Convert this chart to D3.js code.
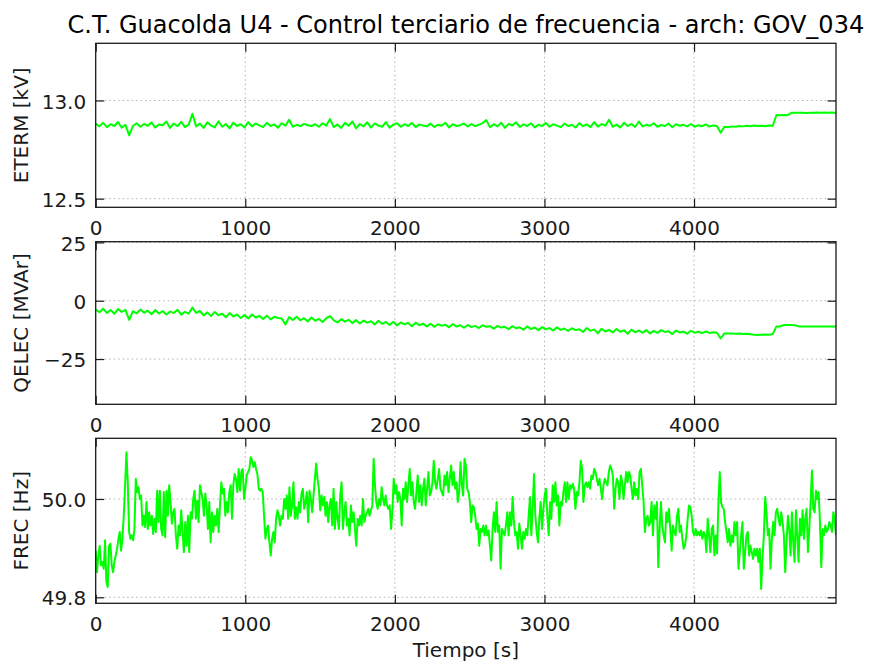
<!DOCTYPE html>
<html><head><meta charset="utf-8">
<script src="https://cdn.jsdelivr.net/npm/d3@7"></script>
<style>body{margin:0;background:#fff}svg{display:block}text{font-family:"DejaVu Sans",sans-serif}</style>
</head><body><svg id="c" width="880" height="661"></svg>
<script>
const TITLE = "C.T. Guacolda U4 - Control terciario de frecuencia - arch: GOV_034";
const X_LABEL = "Tiempo [s]";
const X_TICKS = [0, 1000, 2000, 3000, 4000];
const T_END = 4949;

const ETERM_LABEL = "ETERM [kV]";
const ETERM_TICKS = [12.5, 13.0];
const ETERM = [
12.882,12.868,12.886,12.864,12.879,12.870,12.890,12.861,12.876,12.822,
12.870,12.884,12.866,12.880,12.871,12.888,12.862,12.878,12.874,12.893,
12.860,12.883,12.869,12.891,12.864,12.877,12.932,12.868,12.882,12.860,
12.889,12.872,12.863,12.894,12.866,12.880,12.858,12.887,12.870,12.879,
12.862,12.890,12.868,12.882,12.873,12.864,12.886,12.870,12.878,12.861,
12.884,12.872,12.902,12.866,12.876,12.869,12.881,12.874,12.870,12.879,
12.866,12.884,12.872,12.905,12.864,12.878,12.860,12.886,12.871,12.893,
12.858,12.880,12.868,12.889,12.862,12.883,12.872,12.866,12.890,12.861,
12.877,12.884,12.866,12.879,12.870,12.886,12.864,12.878,12.872,12.868,
12.882,12.865,12.876,12.871,12.887,12.862,12.879,12.870,12.874,12.883,
12.867,12.880,12.869,12.876,12.885,12.900,12.864,12.879,12.868,12.887,
12.860,12.881,12.872,12.889,12.865,12.878,12.870,12.884,12.863,12.876,
12.870,12.886,12.866,12.879,12.872,12.864,12.882,12.870,12.876,12.862,
12.885,12.869,12.878,12.864,12.890,12.867,12.880,12.872,12.902,12.866,
12.877,12.862,12.886,12.870,12.880,12.865,12.893,12.868,12.876,12.871,
12.884,12.866,12.875,12.870,12.882,12.864,12.879,12.871,12.876,12.868,
12.880,12.866,12.874,12.869,12.878,12.867,12.873,12.870,12.836,12.866,
12.864,12.868,12.866,12.870,12.868,12.871,12.869,12.872,12.870,12.871,
12.869,12.872,12.871,12.926,12.925,12.926,12.925,12.937,12.938,12.937,
12.938,12.936,12.938,12.937,12.939,12.938,12.939,12.937,12.939,12.936
];

const QELEC_LABEL = "QELEC [MVAr]";
const QELEC_TICKS = [-25, 0, 25];
const QELEC = [
-3.8,-4.9,-3.4,-5.2,-4.0,-5.6,-3.6,-4.8,-3.9,-8.2,
-4.5,-5.4,-3.8,-5.1,-4.3,-5.8,-4.0,-5.5,-4.4,-5.9,
-4.6,-5.3,-3.9,-6.0,-4.8,-5.5,-2.9,-5.2,-4.4,-6.3,
-5.0,-6.6,-4.8,-6.2,-5.6,-7.1,-5.3,-6.8,-5.9,-7.4,
-6.1,-7.6,-5.9,-7.2,-6.5,-7.8,-6.4,-8.0,-6.9,-7.4,
-7.6,-10.2,-7.0,-8.3,-6.9,-8.4,-7.5,-8.9,-7.2,-8.6,
-7.8,-9.1,-7.5,-6.6,-8.4,-9.3,-7.9,-9.0,-8.2,-9.6,
-8.3,-9.8,-8.5,-9.4,-8.8,-10.2,-8.6,-9.9,-9.1,-10.4,
-9.0,-10.6,-9.3,-10.1,-9.5,-10.9,-9.4,-10.5,-9.8,-11.0,
-9.9,-11.2,-10.1,-10.7,-10.3,-11.4,-10.0,-11.1,-10.5,-11.6,
-10.4,-11.3,-10.8,-11.7,-10.5,-11.2,-10.9,-12.0,-10.8,-11.5,
-11.2,-12.2,-10.9,-11.8,-11.4,-12.4,-11.0,-12.1,-11.5,-12.6,
-11.3,-12.3,-11.7,-12.8,-11.4,-12.5,-11.9,-13.0,-11.8,-12.6,
-12.2,-13.4,-11.7,-12.9,-12.3,-14.0,-12.0,-13.2,-12.5,-13.6,
-12.1,-13.3,-12.7,-14.2,-12.4,-13.5,-12.8,-13.7,-12.6,-14.0,
-12.9,-13.8,-12.6,-13.4,-13.1,-14.3,-12.8,-13.6,-13.2,-14.1,
-12.9,-13.7,-13.3,-13.9,-13.2,-13.8,-13.5,-13.7,-16.2,-14.0,
-14.1,-14.0,-14.2,-14.1,-14.3,-14.2,-14.4,-14.6,-14.7,-14.6,
-14.5,-14.6,-14.3,-11.0,-11.0,-10.4,-10.4,-10.4,-10.5,-11.0,
-11.0,-11.1,-11.0,-11.1,-11.0,-11.1,-11.0,-11.1,-11.0,-11.0
];

const FREC_LABEL = "FREC [Hz]";
const FREC_TICKS = [49.8, 50.0];
const FREC = [
49.895,49.851,49.885,49.905,49.865,49.872,49.858,49.916,49.831,49.821,
49.905,49.909,49.865,49.851,49.872,49.885,49.899,49.919,49.933,49.895,
49.919,49.966,50.028,50.095,50.034,49.933,49.919,49.926,49.916,49.939,
50.041,50.014,50.024,50.000,50.007,49.946,49.966,49.943,49.994,49.939,
49.973,49.946,49.966,49.929,49.960,49.933,50.017,49.953,50.017,49.939,
49.926,50.014,49.922,50.017,49.966,50.028,49.994,49.950,49.973,49.980,
49.926,49.899,49.946,49.926,49.977,49.933,49.892,49.953,49.905,49.966,
49.892,49.973,49.960,50.000,50.017,49.960,49.997,49.953,50.028,50.014,
50.000,49.966,50.011,49.987,49.939,49.994,49.912,49.973,49.933,49.966,
49.946,49.980,49.933,49.987,50.034,50.011,50.021,49.966,49.994,49.973,
50.014,50.028,49.960,50.028,50.051,50.041,50.014,50.061,50.017,50.055,
50.061,50.000,50.021,50.048,50.055,50.061,50.085,50.078,50.065,50.075,
50.061,50.051,50.021,50.017,50.021,50.014,49.966,49.919,49.939,49.946,
49.912,49.885,49.919,49.933,49.912,49.960,49.977,49.966,
49.946,49.966,49.960,50.000,49.980,50.007,49.960,50.024,49.966,49.987,
50.034,49.960,49.983,49.960,49.994,49.973,50.011,50.021,49.980,49.994,
50.014,49.953,50.017,50.000,49.973,50.007,50.041,50.072,50.041,50.021,
49.977,50.007,49.987,50.004,49.966,49.994,49.953,49.987,50.000,49.946,
50.021,49.939,49.994,49.960,49.939,50.007,50.034,49.939,49.973,49.994,
49.946,49.960,49.926,49.987,49.953,49.973,49.939,49.905,49.960,49.946,
49.966,49.946,50.000,49.953,49.966,49.973,49.980,49.966,49.977,49.987,
50.082,50.028,49.994,49.980,50.000,49.987,50.024,50.000,49.987,50.007,
49.987,49.980,49.987,49.939,49.973,50.041,50.011,50.028,49.994,50.014,
50.000,49.946,50.021,50.000,50.034,49.994,50.028,50.061,50.007,50.034,
49.994,49.980,50.014,50.048,49.994,50.028,49.987,50.021,50.041,49.987,
50.021,50.055,50.007,50.014,50.034,50.078,50.034,50.021,50.041,50.061,
50.021,50.014,50.007,50.048,50.028,50.055,50.014,50.041,50.068,50.028,
50.055,50.021,50.034,49.994,50.014,50.075,50.028,50.007,
50.082,50.068,50.021,50.014,49.994,49.953,49.987,49.983,49.966,49.939,
49.950,49.905,49.939,49.933,49.946,49.926,49.946,49.926,49.936,49.905,
49.875,49.939,49.973,49.933,49.994,49.933,49.946,49.858,49.939,49.933,
49.926,49.946,49.973,49.926,49.973,49.946,50.004,49.953,49.926,49.933,
49.899,49.950,49.926,49.899,49.933,49.919,49.939,49.926,49.966,50.004,
49.926,49.980,50.051,49.966,49.933,49.912,49.960,49.994,49.939,49.980,
50.007,50.021,49.966,49.926,49.994,49.960,50.028,49.994,50.034,49.987,
50.007,49.946,49.994,49.987,50.014,50.034,49.994,50.034,50.000,50.028,
50.021,50.031,50.021,49.980,50.014,50.007,50.034,50.078,50.061,49.994,
50.028,50.034,50.024,50.034,50.021,50.048,50.041,50.061,50.055,50.041,
50.028,50.041,50.021,50.000,50.028,50.041,50.034,50.028,50.055,50.068,
50.061,50.048,49.980,50.021,50.041,50.034,50.000,50.048,50.034,50.000,
50.028,50.055,50.034,50.055,50.048,50.021,50.000,50.034,50.007,50.021,
50.000,50.055,50.061,50.028,49.994,49.933,49.960,49.966,49.946,
49.953,49.994,49.926,49.987,49.960,49.994,49.861,49.939,49.994,49.946,
49.926,49.912,49.973,49.953,49.980,49.939,49.895,49.946,49.933,49.926,
49.966,49.980,49.933,49.946,49.919,49.899,49.905,49.926,49.960,49.987,
49.983,49.966,49.933,49.926,49.939,49.926,49.933,49.926,49.936,49.919,
49.933,49.926,49.892,49.960,49.926,49.892,49.939,49.946,49.885,49.926,
49.889,49.994,50.055,49.994,49.983,49.980,49.953,49.933,49.912,49.939,
49.905,49.926,49.912,49.953,49.926,49.953,49.858,49.892,49.926,49.953,
49.858,49.892,49.926,49.933,49.885,49.905,49.892,49.878,49.899,49.885,
49.899,49.872,49.899,49.817,49.878,49.926,50.004,49.973,49.926,49.939,
49.858,49.919,49.953,49.926,49.973,49.980,49.960,49.946,49.973,49.953,
49.926,49.851,49.912,49.966,49.939,49.885,49.973,49.912,49.872,49.977,
49.926,49.872,49.960,49.926,49.977,49.919,49.960,49.980,49.892,49.939,
49.994,50.058,49.980,49.973,50.017,50.000,50.014,49.953,49.861,49.939,
49.926,49.946,49.933,49.939,49.953,49.946,49.933,49.973,49.960,49.926
];

// ---- layout ----
const X0 = 95.7, X1 = 836;
const FONT = 20, TITLE_FONT = 24, TICK_LEN = 8.5;
const LINE_COLOR = "#00ff00", INK = "#1a1a1a";

const panels = [
  {label: ETERM_LABEL, values: ETERM, ticks: ETERM_TICKS, fmt: d3.format(".1f"), top: 43.3, bottom: 207.3, domain: [12.456, 13.291]},
  {label: QELEC_LABEL, values: QELEC, ticks: QELEC_TICKS, fmt: d3.format("d"),   top: 241.7, bottom: 404.3, domain: [-44.4, 25.3]},
  {label: FREC_LABEL,  values: FREC,  ticks: FREC_TICKS,  fmt: d3.format(".1f"), top: 438.3, bottom: 603.3, domain: [49.7878, 50.1235]}
];

const svg = d3.select("#c");
const x = d3.scaleLinear().domain([0, T_END]).range([X0, X1]);

svg.append("text").attr("x", (X0 + X1) / 2).attr("y", 33).attr("text-anchor", "middle")
  .attr("font-size", TITLE_FONT).attr("fill", "#000").text(TITLE);

panels.forEach((p, k) => {
  const y = d3.scaleLinear().domain(p.domain).range([p.bottom, p.top]);
  const g = svg.append("g");
  const n = p.values.length;
  const data = p.values.map((v, i) => [i * T_END / (n - 1), v]);

  g.selectAll(".gx").data(X_TICKS.filter(t => t > 0)).enter().append("line")
    .attr("x1", d => x(d)).attr("x2", d => x(d)).attr("y1", p.top).attr("y2", p.bottom)
    .attr("stroke", "#b0b0b0").attr("stroke-width", 1).attr("stroke-dasharray", "1.5,3");
  g.selectAll(".gy").data(p.ticks).enter().append("line")
    .attr("x1", X0).attr("x2", X1).attr("y1", d => y(d)).attr("y2", d => y(d))
    .attr("stroke", "#b0b0b0").attr("stroke-width", 1).attr("stroke-dasharray", "1.5,3");

  const cid = "clip" + k;
  svg.append("clipPath").attr("id", cid).append("rect")
    .attr("x", X0).attr("y", p.top).attr("width", X1 - X0).attr("height", p.bottom - p.top);
  g.append("path").datum(data).attr("clip-path", `url(#${cid})`)
    .attr("fill", "none").attr("stroke", LINE_COLOR).attr("stroke-width", 2)
    .attr("stroke-linejoin", "round")
    .attr("d", d3.line().x(d => x(d[0])).y(d => y(d[1])));

  const style = sel => {
    sel.select(".domain").remove();
    sel.selectAll(".tick line").attr("stroke", INK).attr("stroke-width", 1.2);
    sel.selectAll("text").attr("font-size", FONT).attr("font-family", "DejaVu Sans").attr("fill", INK);
  };
  g.append("g").attr("transform", `translate(0,${p.bottom})`)
    .call(d3.axisBottom(x).tickValues(X_TICKS).tickSizeInner(-TICK_LEN).tickSizeOuter(0).tickPadding(13.3).tickFormat(d3.format("d")))
    .call(style);
  g.append("g").attr("transform", `translate(0,${p.top})`)
    .call(d3.axisTop(x).tickValues(X_TICKS).tickSizeInner(-TICK_LEN).tickSizeOuter(0).tickFormat(() => ""))
    .call(style);
  const ly = g.append("g").attr("transform", `translate(${X0},0)`)
    .call(d3.axisLeft(y).tickValues(p.ticks).tickSizeInner(-TICK_LEN).tickSizeOuter(0).tickPadding(9.5).tickFormat(p.fmt))
    .call(style);
  ly.selectAll("text").attr("dy", "0.38em");
  g.append("g").attr("transform", `translate(${X1},0)`)
    .call(d3.axisRight(y).tickValues(p.ticks).tickSizeInner(-TICK_LEN).tickSizeOuter(0).tickFormat(() => ""))
    .call(style);

  g.append("rect").attr("x", X0).attr("y", p.top).attr("width", X1 - X0).attr("height", p.bottom - p.top)
    .attr("fill", "none").attr("stroke", INK).attr("stroke-width", 1.3);

  g.append("text").attr("transform", `translate(28,${(p.top + p.bottom) / 2}) rotate(-90)`)
    .attr("text-anchor", "middle").attr("font-size", FONT).attr("fill", INK).text(p.label);
});

svg.append("text").attr("x", (X0 + X1) / 2).attr("y", 657).attr("text-anchor", "middle")
  .attr("font-size", FONT).attr("fill", INK).text(X_LABEL);
</script>
</body></html>
